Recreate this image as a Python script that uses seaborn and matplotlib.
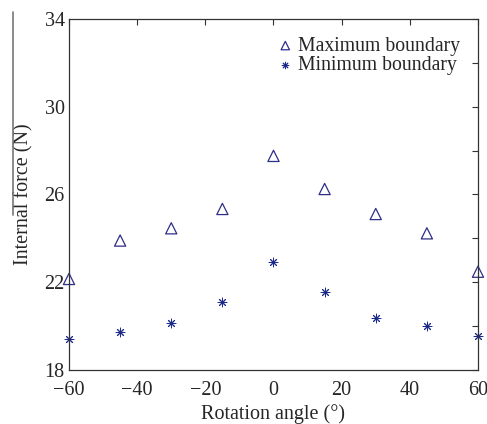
import pandas as pd
import matplotlib.pyplot as plt
import seaborn as sns
from matplotlib.lines import Line2D
from matplotlib.ticker import MultipleLocator

angles = [-60, -45, -30, -15, 0, 15, 30, 45, 60]
max_boundary = [22.15, 23.9, 24.46, 25.34, 27.76, 26.25, 25.11, 24.23, 22.48]
min_boundary = [19.4, 19.72, 20.13, 21.12, 22.9, 21.57, 20.36, 20.02, 19.57]
y_ticks = [18, 22, 26, 30, 34]
x_ticks = [-60, -40, -20, 0, 20, 40, 60]
x_labels = ['\u221260', '\u221240', '\u221220', '0', '20', '40', '60']

df = pd.DataFrame({'angle': angles, 'max': max_boundary, 'min': min_boundary})

sns.set_style('white')
plt.rcParams['font.family'] = ['Liberation Serif', 'DejaVu Serif']

fig = plt.figure(figsize=(4.87, 4.24), dpi=100)
ax = fig.add_axes([0.1417, 0.1274, 0.8398, 0.8278])

sns.scatterplot(data=df, x='angle', y='max', ax=ax, marker='^', s=65,
                facecolors='none', edgecolor='#2e2e88', linewidth=0.9,
                label='Maximum boundary', clip_on=False)
sns.scatterplot(data=df, x='angle', y='min', ax=ax, marker=(8, 2, 0), s=40,
                color='#1c2a8c', edgecolor='#1c2a8c', linewidth=0.7,
                label='Minimum boundary', clip_on=False)

ax.set_xlim(-60, 60)
ax.set_ylim(18, 34)
ax.set_xticks(x_ticks)
ax.set_xticklabels(x_labels)
ax.set_yticks(y_ticks)
ax.yaxis.set_minor_locator(MultipleLocator(2))
ax.tick_params(axis='both', which='both', direction='in', top=True, right=True,
               labelsize=14.5, length=4, width=0.8, color='#333333', pad=3)
ax.tick_params(axis='x', pad=8)
for sp in ax.spines.values():
    sp.set_color('#333333')
    sp.set_linewidth(0.9)

ax.set_xlabel('Rotation angle (\u00b0)', fontsize=14.5, labelpad=3)
ax.set_ylabel('Internal force (N)', fontsize=14.5, labelpad=8)

leg = ax.legend(loc='upper right', frameon=False, fontsize=14.2,
                handletextpad=0.2, labelspacing=0.0, borderaxespad=0.5,
                handlelength=0.9, markerscale=0.75)

# thin gray rule at left edge of the original figure
fig.add_artist(Line2D([13 / 487, 13 / 487], [1 - 12 / 424, 1 - 215 / 424],
                      color='#777777', linewidth=1.2))

fig.savefig('out.png', dpi=100)
